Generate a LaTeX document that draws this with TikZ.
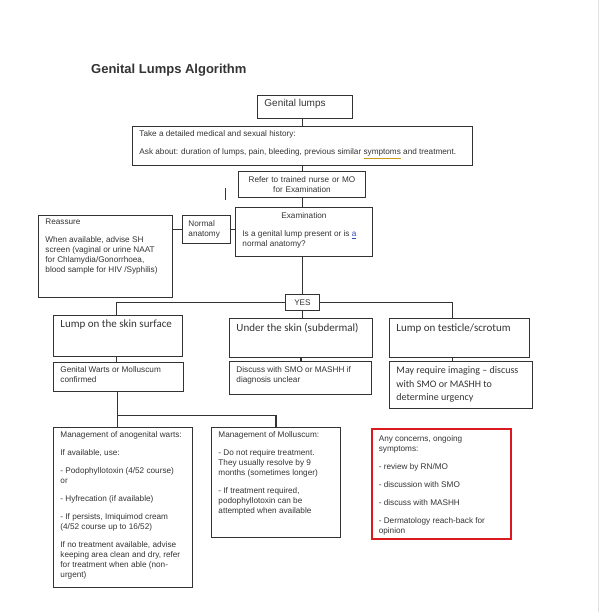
\documentclass[tikz,border=0pt]{standalone}
\usepackage{fontspec}
\setmainfont{Liberation Sans}
\newfontfamily\calfont{Carlito}
\usepackage{tikz}
\definecolor{inkgrey}{rgb}{0.20,0.20,0.20}
\definecolor{alertred}{rgb}{0.86,0.10,0.12}
\definecolor{squiggle}{rgb}{0.80,0.60,0.10}
\definecolor{linkblue}{rgb}{0.20,0.30,0.70}
% top aligned text inside a fixed size box: [pad]{width}{height}{text}
\newcommand\boxtxt[4][4.5pt]{%
  \parbox[c][#3][t]{#2}{\raggedright\vspace*{#1}\leavevmode
    \setlength\parskip{8pt}#4}}
\tikzset{
  box/.style={
    draw=inkgrey,
    line width=.9pt,
    anchor=north west,
    inner xsep=7pt,
    inner ysep=0pt,
    text=inkgrey,
    font=\fontsize{8.2}{10}\selectfont
  },
  midbox/.style={
    box,
    align=center
  },
  headbox/.style={
    box,
    font=\calfont\fontsize{11}{13}\selectfont
  },
  alertbox/.style={
    box,
    draw=alertred,
    line width=1.6pt
  },
  title/.style={
    anchor=base west,
    inner sep=0pt,
    text=inkgrey,
    font=\bfseries\fontsize{13}{15}\selectfont
  },
  link/.style={
    draw=inkgrey,
    line width=1.1pt
  }
}

\begin{document}
\begin{tikzpicture}[x=1pt,y=-1pt]
\useasboundingbox (0,0) rectangle (599,612);
\draw[black!12,line width=1pt] (598,0) -- (598,612);

\node[title] (title) at (91,74) {Genital Lumps Algorithm};

% top of the chart
\node[box,font=\fontsize{10}{12}\selectfont] (lumps) at (257,95) {\boxtxt[3.7pt]{81pt}{23pt}{Genital lumps}};
\node[box] (hist) at (132,126) {\boxtxt{326pt}{39pt}{Take a detailed medical and sexual history:\par
  Ask about: duration of lumps, pain, bleeding, previous similar {\color{squiggle}\underline{\color{inkgrey}symptoms}} and treatment.}};
\node[midbox,text width=113pt,minimum height=26pt] (refer) at (238,171) {Refer to trained nurse or MO\\for Examination};
\node[box] (exam) at (235,207) {\boxtxt[5.6pt]{123pt}{49pt}{{\centering Examination\par}
  Is a genital lump present or is {\color{linkblue}\underline{a}}\\normal anatomy?}};
\node[box,inner xsep=6pt,text width=36pt,minimum height=28pt,align=left] (normal) at (182,215) {Normal\\anatomy};
\node[box] (reassure) at (38,215) {\boxtxt[3.8pt]{120pt}{82pt}{Reassure\par
  When available, advise SH\\screen (vaginal or urine NAAT\\for Chlamydia/Gonorrhoea,\\blood sample for HIV /Syphilis)}};
\node[box,inner xsep=0pt,minimum width=34pt,minimum height=16pt] (yes) at (285,294) {YES};
\coordinate (tick) at (225,188);

% three kinds of lump
\node[headbox] (skin) at (53,315) {\boxtxt[4.3pt]{115pt}{41pt}{Lump on the skin surface}};
\node[headbox] (subd) at (229,318) {\boxtxt[5.3pt]{129pt}{39pt}{Under the skin (subdermal)}};
\node[headbox] (testis) at (389,318) {\boxtxt[5.3pt]{126pt}{39pt}{Lump on testicle/scrotum}};
\node[box] (warts) at (53,362) {\boxtxt[3.8pt]{116pt}{29pt}{Genital Warts or Molluscum\\confirmed}};
\node[box] (discuss) at (229,361) {\boxtxt[5.6pt]{128pt}{33pt}{Discuss with SMO or MASHH if\\diagnosis unclear}};
\node[box,font=\calfont\fontsize{10}{13.5}\selectfont] (imaging) at (389,361) {\boxtxt[5.5pt]{129pt}{47pt}{May require imaging – discuss\\with SMO or MASHH to\\determine urgency}};

% management
\node[box] (anog) at (53,427) {\boxtxt[4.6pt]{125pt}{160pt}{Management of anogenital warts:\par
  If available, use:\par
  - Podophyllotoxin (4/52 course)\\or\par
  - Hyfrecation (if available)\par
  - If persists, Imiquimod cream\\(4/52 course up to 16/52)\par
  If no treatment available, advise\\keeping area clean and dry, refer\\for treatment when able (non-\\urgent)}};
\node[box] (moll) at (211,427) {\boxtxt[4pt]{115pt}{110pt}{Management of Molluscum:\par
  - Do not require treatment.\\They usually resolve by 9\\months (sometimes longer)\par
  - If treatment required,\\podophyllotoxin can be\\attempted when available}};
\node[alertbox] (concern) at (371,428) {\boxtxt[6.6pt]{125pt}{110pt}{Any concerns, ongoing\\symptoms:\par
  - review by RN/MO\par
  - discussion with SMO\par
  - discuss with MASHH\par
  - Dermatology reach-back for\\opinion}};

% connectors
\draw[link] (hist.north) -- (hist.north |- lumps.south);
\draw[link] (hist.south) -- (hist.south |- refer.north);
\draw[link] (hist.south |- refer.south) -- (hist.south |- exam.north);
\draw[link,line width=.7pt] (tick) -- ++(0,12);
\draw[link] (exam.west |- normal.east) -- (normal.east);
\draw[link] (normal.west) -- (normal.west -| reassure.east);
\draw[link] (yes.north) -- (yes.north |- exam.south);
\draw[link] (yes.west) -| ([xshift=-1.5pt]skin.north);
\draw[link] (yes.east) -| ([xshift=-7pt]testis.north);
\draw[link] (yes.south) -- (yes.south |- subd.north);
\draw[link] ([xshift=-1.5pt]skin.south) -- ([xshift=-1.5pt]skin.south |- warts.north);
\draw[link] (subd.south) -- (subd.south |- discuss.north);
\draw[link] ([xshift=-7pt]testis.south) -- ([xshift=-7pt]testis.south |- imaging.north);
\coordinate (fork) at ([xshift=-1pt,yshift=-24pt]warts.south);
\draw[link] ([xshift=-1pt]warts.south) -- ([xshift=-1pt]warts.south |- anog.north);
\draw[link] (fork) -| (moll.north);
\end{tikzpicture}
\end{document}
